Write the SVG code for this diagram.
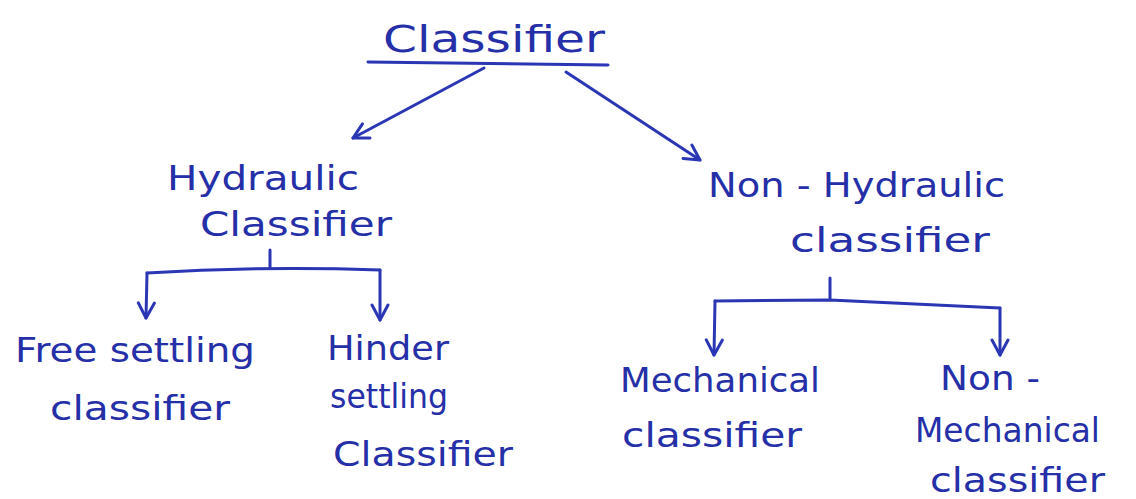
<svg xmlns="http://www.w3.org/2000/svg" width="1136" height="499" viewBox="0 0 1136 499">
<style>
text{font-family:"DejaVu Sans","Liberation Sans",sans-serif;fill:#2530a8;font-size:34px;font-weight:normal}
.top{font-size:38px}
.ln{fill:none;stroke:#2a36b4;stroke-width:3;stroke-linecap:round;stroke-linejoin:round}
</style>
<defs>
<marker id="ah" viewBox="0 0 20 20" refX="17" refY="10" markerWidth="20" markerHeight="20" markerUnits="userSpaceOnUse" orient="auto">
<path d="M2,2 L17,10 L2,18" fill="none" stroke="#2a36b4" stroke-width="3" stroke-linecap="round" stroke-linejoin="round"/>
</marker>
</defs>
<rect width="1136" height="499" fill="#ffffff"/>
<g id="root">
<text class="top" x="383" y="52" textLength="222" lengthAdjust="spacingAndGlyphs">Classifier</text>
</g>
<g id="hydraulic">
<text x="167" y="190" textLength="192" lengthAdjust="spacingAndGlyphs">Hydraulic</text>
<text x="200" y="236" textLength="192" lengthAdjust="spacingAndGlyphs">Classifier</text>
</g>
<g id="nonhydraulic">
<text x="708" y="197" textLength="297" lengthAdjust="spacingAndGlyphs">Non - Hydraulic</text>
<text x="790" y="252" textLength="200" lengthAdjust="spacingAndGlyphs">classifier</text>
</g>
<g id="free">
<text x="15" y="362" textLength="240" lengthAdjust="spacingAndGlyphs">Free settling</text>
<text x="50" y="420" textLength="180" lengthAdjust="spacingAndGlyphs">classifier</text>
</g>
<g id="hinder">
<text x="327" y="360" textLength="122" lengthAdjust="spacingAndGlyphs">Hinder</text>
<text x="330" y="408" textLength="118" lengthAdjust="spacingAndGlyphs">settling</text>
<text x="333" y="466" textLength="180" lengthAdjust="spacingAndGlyphs">Classifier</text>
</g>
<g id="mechanical">
<text x="620" y="392" textLength="200" lengthAdjust="spacingAndGlyphs">Mechanical</text>
<text x="622" y="447" textLength="180" lengthAdjust="spacingAndGlyphs">classifier</text>
</g>
<g id="nonmechanical">
<text x="940" y="390" textLength="100" lengthAdjust="spacingAndGlyphs">Non -</text>
<text x="915" y="442" textLength="185" lengthAdjust="spacingAndGlyphs">Mechanical</text>
<text x="930" y="492" textLength="175" lengthAdjust="spacingAndGlyphs">classifier</text>
</g>
<g id="connectors">
<path class="ln" d="M368,62 L608,65"/>
<path class="ln" d="M484,68 L353,138" marker-end="url(#ah)"/>
<path class="ln" d="M566,72 L700,160" marker-end="url(#ah)"/>
<path class="ln" d="M270,250 L270,268"/>
<path class="ln" d="M147,273 Q260,266 380,270"/>
<path class="ln" d="M147,273 L146,318" marker-end="url(#ah)"/>
<path class="ln" d="M380,270 L380,320" marker-end="url(#ah)"/>
<path class="ln" d="M830,278 L830,298"/>
<path class="ln" d="M715,301 L830,300 L1000,308"/>
<path class="ln" d="M715,301 L714,355" marker-end="url(#ah)"/>
<path class="ln" d="M1000,308 L1000,355" marker-end="url(#ah)"/>
</g>
</svg>
